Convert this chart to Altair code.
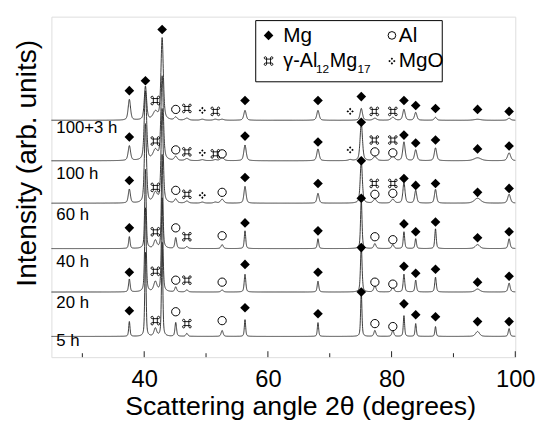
import numpy as np
import pandas as pd
import altair as alt

# ---------------- data ----------------
samples = ["100+3 h", "100 h", "60 h", "40 h", "20 h", "5 h"]
baselines = [240, 199, 156, 110, 66, 21]          # intensity (arb.) of each pattern's background
label_y = [232, 186, 144, 96, 55, 16]             # where each sample label sits

peak_pos = [37.6, 40.2, 41.8, 42.9, 45.1, 46.9, 49.4, 51.5, 52.6, 56.3,
            68.1, 73.3, 75.1, 77.3, 80.2, 82.0, 83.9, 87.1, 93.9, 99.0]
width_factor = [1, 1, 2, 1, 1.2, 1.5, 1.5, 1.5, 1.5, 1,
                1, 1.5, 1, 1.5, 1.5, 1, 1, 1, 3, 1.3]
heights = {
    "100+3 h": [21, 34, 8, 83, 3, 2, 1, 1, 1, 10, 10, 0, 12, 2, 3, 11, 8, 3, 1, 2],
    "100 h":   [15, 70, 10, 85, 4, 2, 1, 1, 3, 16, 12, 1, 38, 4, 5, 19, 11, 13, 3, 8],
    "60 h":    [14, 80, 10, 95, 4, 2, 1, 1, 4, 17, 10, 0, 43, 4, 4, 21, 13, 14, 5, 9],
    "40 h":    [12, 80, 8, 95, 11, 2, 0, 0, 4, 18, 10, 0, 50, 5, 4, 17, 10, 20, 4, 10],
    "20 h":    [13, 85, 10, 95, 5, 2, 0, 0, 2, 18, 11, 0, 47, 6, 5, 18, 12, 15, 3, 9],
    "5 h":     [15, 85, 8, 95, 14, 3, 0, 0, 6, 17, 14, 0, 45, 6, 6, 21, 13, 10, 5, 8],
}
fwhm = [0.45, 0.45, 0.4, 0.28, 0.3, 0.25]

# phase markers: positions and heights above each pattern's background
mg_x = [37.6, 40.2, 42.9, 56.3, 68.1, 75.1, 82.0, 83.9, 87.1, 93.9, 99.0]
mg_level = {
    "100+3 h": [30, 40, 92, 20, 20, 24, 20, 15, 12, 11, 9],
    "100 h":   [24, None, None, 25, 19, 39, 26, 18, 21, 12, 15],
    "60 h":    [23, None, None, 26, 20, 43, 25, 18, 20, 11, 15],
    "40 h":    [21, None, None, 26, 18, 51, 25, 17, 27, 11, 17],
    "20 h":    [20, None, None, 28, 20, 45, 26, 19, 23, 10, 16],
    "5 h":     [26, None, None, 29, 23, 45, 33, 22, 20, 15, 15],
}
al_x = [45.1, 52.6, 77.3, 80.2]
al_level = {
    "100+3 h": [11, None, None, None],
    "100 h":   [11, 7, 9, 8],
    "60 h":    [13, 11, 9, 10],
    "40 h":    [21, 13, 12, 9],
    "20 h":    [12, 10, 10, 8],
    "5 h":     [25, 16, 13, 10],
}
gam_x = [41.8, 46.9, 51.5, 77.2, 80.2]
gam_level = {
    "100+3 h": [20, 12, 9, 9, 9],
    "100 h":   [20, 9, 7, 21, 21],
    "60 h":    [16, 9, None, 20, 20],
    "40 h":    [17, 12, None, None, None],
    "20 h":    [21, 12, None, None, None],
    "5 h":     [16, 13, None, None, None],
}
mgo_x = [49.4, 73.3]
mgo_level = {
    "100+3 h": [10, 9],
    "100 h":   [8, 11],
    "60 h":    [8, None],
    "40 h":    [None, None],
    "20 h":    [None, None],
    "5 h":     [None, None],
}

x_labels = [40, 60, 80, 100]
major_ticks = [40, 60, 80, 100]
minor_ticks = [30, 50, 70, 90]

# ---------------- build tables ----------------
grid = np.round(np.arange(25, 100.0001, 0.02), 3)
rows = []
for name, base, fw in zip(samples, baselines, fwhm):
    y = np.full(grid.shape, float(base))
    for p, h, wf in zip(peak_pos, heights[name], width_factor):
        if h <= 0:
            continue
        w = fw * wf
        d = (grid - p) / w
        y += h * (0.5 * np.exp(-4 * np.log(2) * d ** 2) + 0.5 / (1 + 4 * d ** 2))
    rows.append(pd.DataFrame({"x": grid, "y": np.round(y, 2), "s": name}))
curves = pd.concat(rows, ignore_index=True)


def marker_table(xs, levels):
    out = []
    for name, base in zip(samples, baselines):
        for xv, lv in zip(xs, levels[name]):
            if lv is not None:
                out.append({"x": xv, "y": base + lv, "s": name})
    return pd.DataFrame(out)


mg_df = marker_table(mg_x, mg_level)
al_df = marker_table(al_x, al_level)
gam_df = marker_table(gam_x, gam_level)
mgo_df = marker_table(mgo_x, mgo_level)
lab_df = pd.DataFrame({"s": samples, "y": label_y})

W, H = 470, 345
FONT = "Liberation Sans"
xs = alt.Scale(domain=[25, 100], nice=False, zero=False)
ys = alt.Scale(domain=[0, H], nice=False, zero=False)

X = alt.X("x:Q", scale=xs, axis=alt.Axis(
    values=x_labels, ticks=False, domain=False, grid=False, labelFlush=False,
    labelFont=FONT, labelFontSize=24, labelColor="black", labelPadding=11,
    title="Scattering angle 2θ (degrees)", titleFont=FONT, titleFontSize=27,
    titleFontWeight="normal", titleColor="black", titleX=252, titleY=58,
    titleBaseline="alphabetic"))
Y = alt.Y("y:Q", scale=ys, axis=alt.Axis(
    labels=False, ticks=False, domain=False, grid=False,
    title="Intensity (arb. units)", titleFont=FONT, titleFontSize=28.5,
    titleFontWeight="normal", titleColor="black", titleAngle=270,
    titleX=-16, titleY=148, titleBaseline="alphabetic", titleAlign="center"))

# marker glyph outlines in the unit box
CMD_PATH = ("M-0.45,-0.72V0.72M0.45,-0.72V0.72M-0.72,-0.45H0.72M-0.72,0.45H0.72"
            "M-0.45,-0.72A0.27,0.27 0 1,0 -0.72,-0.45"
            "M0.45,-0.72A0.27,0.27 0 1,1 0.72,-0.45"
            "M-0.45,0.72A0.27,0.27 0 1,1 -0.72,0.45"
            "M0.45,0.72A0.27,0.27 0 1,0 0.72,0.45")
MGO_PATH = ("M0,-1L0.32,-0.64L0,-0.28L-0.32,-0.64Z"
            "M1,0L0.64,0.32L0.28,0L0.64,-0.32Z"
            "M0,1L0.32,0.64L0,0.28L-0.32,0.64Z"
            "M-1,0L-0.64,0.32L-0.28,0L-0.64,-0.32Z")

curve_layer = alt.Chart(curves).mark_line(color="#222", strokeWidth=0.9).encode(
    x=X, y=Y, detail="s:N")
mg_layer = alt.Chart(mg_df).mark_point(shape="diamond", filled=True, color="black",
                                       size=95, opacity=1).encode(x=X, y=Y)
al_layer = alt.Chart(al_df).mark_point(shape="circle", filled=True, fill="white",
                                       stroke="black", strokeWidth=1, size=70,
                                       opacity=1).encode(x=X, y=Y)
gam_layer = alt.Chart(gam_df).mark_point(shape=CMD_PATH, filled=False, color="black",
                                         strokeWidth=0.9, size=80,
                                         opacity=1).encode(x=X, y=Y)
mgo_layer = alt.Chart(mgo_df).mark_point(shape=MGO_PATH, filled=True, color="black",
                                         size=55, opacity=1).encode(x=X, y=Y)
lab_layer = alt.Chart(lab_df).mark_text(align="left", baseline="middle", font=FONT,
                                        fontSize=17, color="black").encode(
    x=alt.value(5), y=Y, text="s:N")

major_layer = alt.Chart(pd.DataFrame({"x": major_ticks})).mark_rule(
    color="#222", strokeWidth=1).encode(x=X, y=alt.value(H), y2=alt.value(H - 6))
minor_layer = alt.Chart(pd.DataFrame({"x": minor_ticks})).mark_rule(
    color="#222", strokeWidth=1).encode(x=X, y=alt.value(H), y2=alt.value(H - 4))

# legend (pixel layout inside the plot area)
one = pd.DataFrame({"a": [0]})
legend_layers = [
    alt.Chart(one).mark_rect(fill="white", stroke="black", strokeWidth=1).encode(
        x=alt.value(207), x2=alt.value(396), y=alt.value(4), y2=alt.value(66)),
    alt.Chart(one).mark_point(shape="diamond", filled=True, color="black", size=95,
                              opacity=1).encode(x=alt.value(220), y=alt.value(19)),
    alt.Chart(one).mark_point(shape="circle", filled=True, fill="white", stroke="black",
                              strokeWidth=1, size=60, opacity=1).encode(
        x=alt.value(345), y=alt.value(19)),
    alt.Chart(one).mark_point(shape=CMD_PATH, filled=False, color="black",
                              strokeWidth=0.9, size=80, opacity=1).encode(
        x=alt.value(220), y=alt.value(45)),
    alt.Chart(one).mark_point(shape=MGO_PATH, filled=True, color="black", size=55,
                              opacity=1).encode(x=alt.value(345), y=alt.value(45)),
]
leg_items = [("Mg", 235, 26, 21), ("Al", 352, 26, 21), ("γ-Al", 235, 51, 20),
             ("12", 268, 57, 12), ("Mg", 282, 51, 20), ("17", 310, 57, 12),
             ("MgO", 352, 51, 21)]
for t, px, py, fs in leg_items:
    legend_layers.append(
        alt.Chart(one).mark_text(text=t, font=FONT, fontSize=fs, color="black",
                                 align="left", baseline="alphabetic").encode(
            x=alt.value(px), y=alt.value(py)))

chart = alt.layer(
    curve_layer, major_layer, minor_layer, lab_layer,
    mg_layer, al_layer, gam_layer, mgo_layer, *legend_layers,
).properties(
    width=W, height=H,
    autosize=alt.AutoSizeParams(type="none"),
    padding={"left": 44, "top": 6, "right": 22, "bottom": 68},
).configure_view(stroke="#333", strokeWidth=2).configure(background="white")

chart.save("out.html", embed_options={"renderer": "svg", "actions": False})
